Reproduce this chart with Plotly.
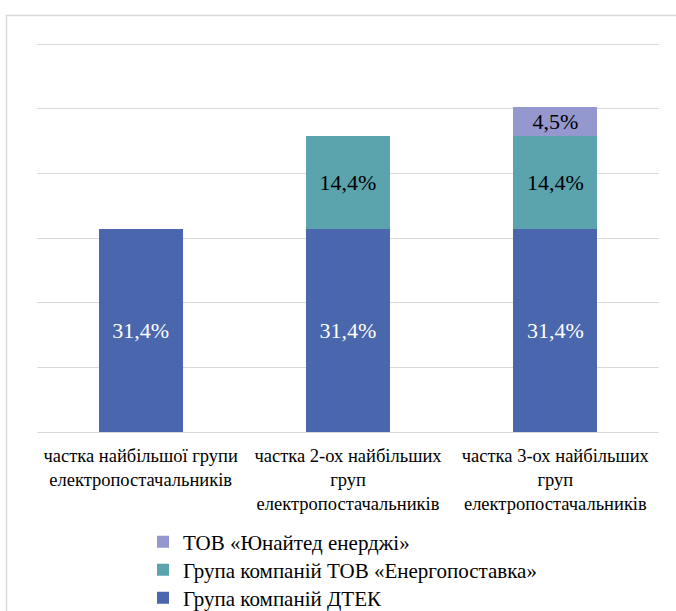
import plotly.graph_objects as go

categories = [
    "частка найбільшої групи<br>електропостачальників",
    "частка 2-ох найбільших<br>груп<br>електропостачальників",
    "частка 3-ох найбільших<br>груп<br>електропостачальників",
]
series_names = [
    "Група компаній ДТЕК",
    "Група компаній ТОВ «Енергопоставка»",
    "ТОВ «Юнайтед енерджі»",
]
dtek = [31.4, 31.4, 31.4]
energo = [None, 14.4, 14.4]
united = [None, None, 4.5]
colors = ["#4A66AC", "#5BA3AD", "#9597CF"]
label_colors = ["white", "black", "black"]

SERIF = "Liberation Serif"
W, H = 676, 611
ml, mr, mt, mb = 37, 17, 41, 179
pw = W - ml - mr
ph = H - mt - mb

def py(pix):
    # pixel row -> paper y
    return (H - mb - pix) / ph

def px(pix):
    return (pix - ml) / pw

legend_ids = ["legend3", "legend2", "legend"]
legend_rows = [598, 570, 542]

fig = go.Figure()
for name, vals, col, lc, lid in zip(series_names, [dtek, energo, united], colors, label_colors, legend_ids):
    fig.add_trace(go.Bar(
        x=categories, y=vals, name=name, legend=lid,
        marker=dict(color=col, line=dict(width=0)),
        text=[("" if v is None else f"{v:.1f}".replace(".", ",") + "%") for v in vals],
        textposition="inside", insidetextanchor="middle",
        textfont=dict(family=SERIF, size=22, color=lc),
        constraintext="none", width=0.405, hoverinfo="skip",
    ))

legend_common = dict(orientation="v", bgcolor="rgba(0,0,0,0)", xanchor="left", yanchor="middle",
                     x=px(143), font=dict(size=21, color="black", family=SERIF))
fig.update_layout(
    width=W, height=H, barmode="stack",
    margin=dict(l=ml, r=mr, t=mt, b=mb, autoexpand=False),
    paper_bgcolor="white", plot_bgcolor="white",
    font=dict(family=SERIF, color="black"),
    xaxis=dict(showline=False, ticks="", tickfont=dict(size=18.5, color="#000000", family=SERIF),
               tickangle=0, ticklabelstandoff=10),
    yaxis=dict(range=[0, 60.5], tickvals=[0, 10, 20, 30, 40, 50, 60], showticklabels=False,
               showgrid=True, gridcolor="#D9D9D9", gridwidth=1,
               zeroline=True, zerolinecolor="#D9D9D9", zerolinewidth=1),
    legend=dict(legend_common, y=py(legend_rows[2])),
    legend2=dict(legend_common, y=py(legend_rows[1])),
    legend3=dict(legend_common, y=py(legend_rows[0])),
    showlegend=True,
    shapes=[dict(type="rect", xref="paper", yref="paper",
                 x0=px(6.5), x1=px(W + 60),
                 y0=py(H + 60), y1=py(15.5),
                 line=dict(color="#D9D9D9", width=1.5), fillcolor="rgba(0,0,0,0)", layer="below")],
)
fig.write_html("out.html", config={"displayModeBar": False},
               post_script="document.body.style.margin='0px';")
